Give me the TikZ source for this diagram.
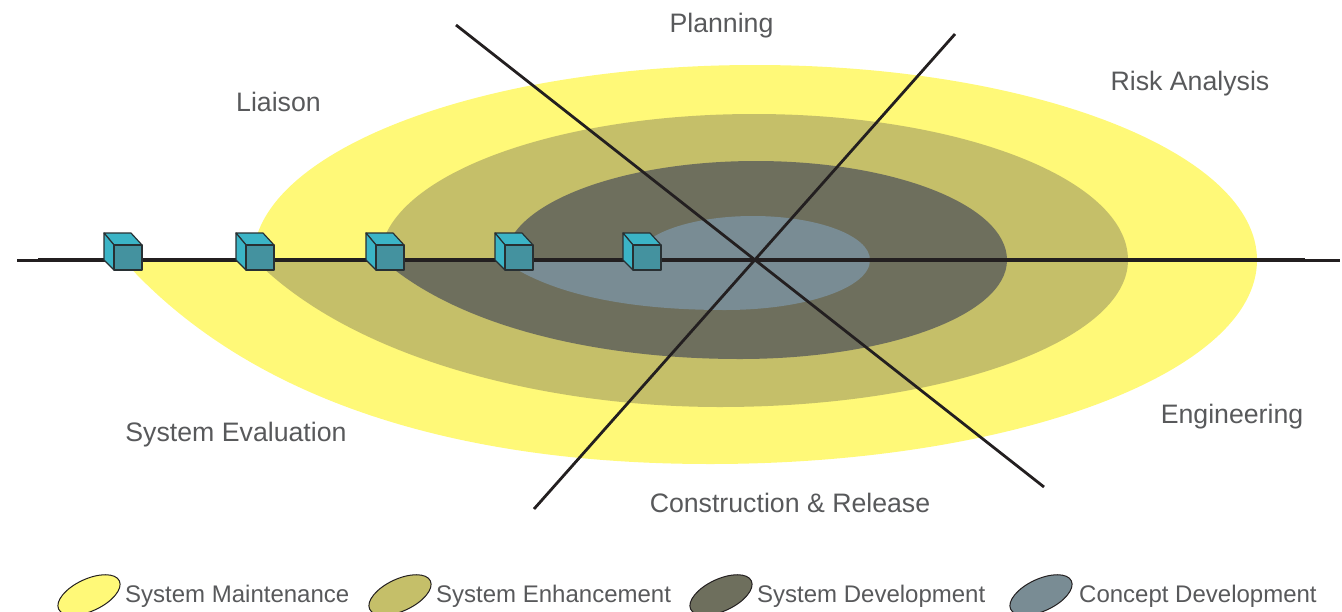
\documentclass[tikz,border=0pt]{standalone}
\usepackage{fontspec}
\setmainfont{Liberation Sans}
\usetikzlibrary{shapes.geometric}
\definecolor{cYel}{HTML}{FFF978}
\definecolor{cOli}{HTML}{C5BF69}
\definecolor{cDrk}{HTML}{6E6F5D}
\definecolor{cBlu}{HTML}{798C94}
\definecolor{cTxt}{HTML}{58595B}
\definecolor{cLin}{HTML}{231F20}
\definecolor{cCubeL}{HTML}{3BB4C6}
\definecolor{cCubeF}{HTML}{44929F}
\tikzset{
  x=1pt,y=-1pt,
  lbl/.style={font=\fontsize{26.7}{30}\selectfont,text=cTxt,inner sep=0pt,anchor=base},
  legtxt/.style={font=\fontsize{24}{28}\selectfont,text=cTxt,inner sep=0pt,anchor=base west},
  axis/.style={draw=cLin,line width=2.8pt},
  legell/.style={draw=cLin,line width=1pt,ellipse,minimum width=67pt,minimum height=32pt,rotate=25,inner sep=0pt},
  cubeline/.style={draw=cLin!85!cCubeF,line width=1.2pt,line join=round},
  pics/cube/.style={code={
    \path[cubeline,fill=cCubeL] (-38,-37) -- (-11,-37) -- (0,-25) -- (-28,-25) -- cycle;
    \path[cubeline,fill=cCubeL] (-38,-37) -- (-28,-25) -- (-28,0) -- (-38,-10) -- cycle;
    \path[cubeline,fill=cCubeF] (-28,-25) -- (0,-25) -- (0,0) -- (-28,0) -- cycle;
  }}
}
\begin{document}
\begin{tikzpicture}
\useasboundingbox (0,0) rectangle (1342,611);
\clip (0,0) rectangle (1342,611);
% spiral bands: upper half and lower half of each band
\fill[cYel] (1257,260) arc[start angle=0,end angle=180,x radius=502pt,y radius=195pt] -- cycle;
\fill[cYel] (125,260) -- (125,262) .. controls (250,400) and (455,464) .. (710,464) .. controls (1012,464) and (1257,373) .. (1257,260) -- cycle;
\fill[cOli] (1128,260) arc[start angle=0,end angle=180,x radius=374pt,y radius=146pt] -- cycle;
\fill[cOli] (257,260) -- (257,262) .. controls (357,361) and (550,407) .. (720,407) .. controls (945,407) and (1128,341) .. (1128,260) -- cycle;
\fill[cDrk] (1007,260) arc[start angle=0,end angle=180,x radius=251pt,y radius=99pt] -- cycle;
\fill[cDrk] (385,260) -- (385,262) .. controls (462,328) and (600,359) .. (740,359) .. controls (887,359) and (1007,315) .. (1007,260) -- cycle;
\fill[cBlu] (870,260) arc[start angle=0,end angle=180,x radius=117pt,y radius=44pt] -- cycle;
\fill[cBlu] (505,260) -- (505,262) .. controls (553,295) and (629,310) .. (725,310) .. controls (805,310) and (870,288) .. (870,260) -- cycle;
% axes
\coordinate (hL) at (17,260.4);
\coordinate (hR) at (1340,260.4);
\coordinate (hL2) at (38,259.4);
\coordinate (hR2) at (1305,259.4);
\coordinate (dA) at (456,25);
\coordinate (dB) at (1044,487);
\coordinate (dC) at (955,34);
\coordinate (dD) at (534,509);
\draw[draw=cLin,line width=2.2pt] (hL) -- (hR);
\draw[draw=cLin,line width=2.2pt] (hL2) -- (hR2);
\draw[axis] (dA) -- (dB);
\draw[axis] (dC) -- (dD);
% cubes
\pic (c1) at (142,270) {cube};
\pic (c2) at (274,270) {cube};
\pic (c3) at (404,270) {cube};
\pic (c4) at (533,270) {cube};
\pic (c5) at (661,270) {cube};
% labels
\node[lbl] (planning) at (721.5,32) {Planning};
\node[lbl] (risk) at (1190,90) {Risk Analysis};
\node[lbl] (liaison) at (278.5,111) {Liaison};
\node[lbl] (sysev) at (236,441) {System Evaluation};
\node[lbl] (eng) at (1232,423) {Engineering};
\node[lbl] (constr) at (790,512) {Construction \& Release};
% legend
\node[legell,fill=cYel] (l1) at (89,595) {};
\node[legell,fill=cOli] (l2) at (400,595) {};
\node[legell,fill=cDrk] (l3) at (721,595) {};
\node[legell,fill=cBlu] (l4) at (1041,595) {};
\node[legtxt] (t1) at (125,602) {System Maintenance};
\node[legtxt] (t2) at (436,602) {System Enhancement};
\node[legtxt] (t3) at (757,602) {System Development};
\node[legtxt] (t4) at (1079,602) {Concept Development};
\end{tikzpicture}
\end{document}
